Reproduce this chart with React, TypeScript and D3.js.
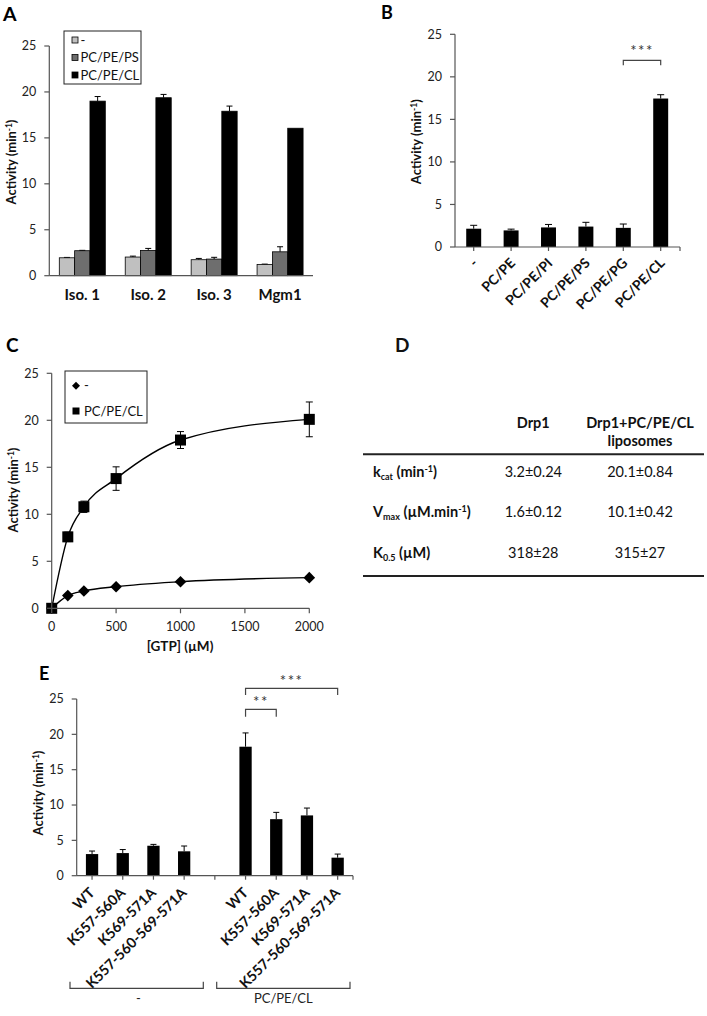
import React from "react";
import * as d3 from "d3";

const FONT = "Lato, 'Open Sans', sans-serif";
const AXIS = "#555";

// ---------- Panel A ----------
const groupsA = ["Iso. 1", "Iso. 2", "Iso. 3", "Mgm1"];
const seriesA = ["-", "PC/PE/PS", "PC/PE/CL"];
const colorsA = ["#c0c0c0", "#6e6e6e", "#000000"];
const valA_none = [1.95, 2.03, 1.74, 1.23];
const errA_none = [0.04, 0.1, 0.14, 0.03];
const valA_PS = [2.72, 2.75, 1.81, 2.6];
const errA_PS = [0.04, 0.22, 0.19, 0.55];
const valA_CL = [19.0, 19.37, 17.9, 16.05];
const errA_CL = [0.5, 0.36, 0.56, 0];
const ticksY = [0, 5, 10, 15, 20, 25];

// ---------- Panel B ----------
const catsB = ["-", "PC/PE", "PC/PE/PI", "PC/PE/PS", "PC/PE/PG", "PC/PE/CL"];
const valB = [2.15, 1.95, 2.3, 2.4, 2.25, 17.45];
const errB = [0.4, 0.15, 0.35, 0.5, 0.45, 0.45];

// ---------- Panel C ----------
const gtpC = [0, 125, 250, 500, 1000, 2000];
const actNoneC = [0, 1.35, 1.84, 2.3, 2.83, 3.26];
const actCLC = [0, 7.6, 10.8, 13.8, 17.9, 20.1];
const errCLC = [0, 0.5, 0.6, 1.25, 0.9, 1.85];
const ticksXC = [0, 500, 1000, 1500, 2000];

// ---------- Panel D ----------
const headersD = ["Drp1", "Drp1+PC/PE/CL", "liposomes"];
const colDrp1 = ["3.2±0.24", "1.6±0.12", "318±28"];
const colCL = ["20.1±0.84", "10.1±0.42", "315±27"];

// ---------- Panel E ----------
const catsE = ["WT", "K557-560A", "K569-571A", "K557-560-569-571A"];
const groupsE = ["-", "PC/PE/CL"];
const valE_none = [3.06, 3.2, 4.24, 3.45];
const errE_none = [0.43, 0.5, 0.19, 0.75];
const valE_CL = [18.25, 8.0, 8.53, 2.55];
const errE_CL = [1.95, 0.96, 1.04, 0.51];

function YAxis({ y, x, fs = 12.5 }: any) {
  return (
    <g>
      <line x1={x} x2={x} y1={y(0)} y2={y(25)} stroke={AXIS} strokeWidth={1.2} />
      {ticksY.map((t) => (
        <g key={t}>
          <line x1={x - 5} x2={x} y1={y(t)} y2={y(t)} stroke={AXIS} strokeWidth={1.2} />
          <text x={x - 13} y={y(t)} dy="0.35em" textAnchor="end" fontSize={fs} fill="#222">
            {t}
          </text>
        </g>
      ))}
    </g>
  );
}

function YTitle({ x, y }: any) {
  return (
    <text transform={`translate(${x},${y}) rotate(-90)`} textAnchor="middle" fontWeight="bold" fontSize={13} dy="0.35em" fill="#111">
      Activity (min<tspan dy={-4} fontSize={8.5}>-1</tspan>
      <tspan dy={4}>)</tspan>
    </text>
  );
}

function ErrBar({ cx, y1, y2, w = 6 }: any) {
  return (
    <g stroke="#000" strokeWidth={1}>
      <line x1={cx} x2={cx} y1={y1} y2={y2} />
      <line x1={cx - w / 2} x2={cx + w / 2} y1={y2} y2={y2} />
    </g>
  );
}

function PanelA() {
  const y = d3.scaleLinear().domain([0, 25]).range([275.7, 46]);
  const x = d3.scaleBand().domain(groupsA).range([49.3, 313]);
  const xi = d3.scaleBand().domain(seriesA).range([10, 56]);
  const vals = [valA_none, valA_PS, valA_CL];
  const errs = [errA_none, errA_PS, errA_CL];
  return (
    <g>
      <text x={3} y={21} fontSize={19.5} fontWeight="bold">A</text>
      {groupsA.map((g, gi) =>
        seriesA.map((s, si) => {
          const v = vals[si][gi];
          const e = errs[si][gi];
          const bx = (x(g) as number) + (xi(s) as number);
          const bw = xi.bandwidth();
          return (
            <g key={g + s}>
              {e > 0 && <ErrBar cx={bx + bw / 2} y1={y(v)} y2={y(v + e)} w={6} />}
              <rect x={bx} y={y(v)} width={bw} height={y(0) - y(v)} fill={colorsA[si]} stroke="#000" strokeWidth={0.8} />
            </g>
          );
        })
      )}
      <YAxis y={y} x={49.3} />
      <line x1={49.3} x2={313} y1={y(0)} y2={y(0)} stroke={AXIS} strokeWidth={1.2} />
      {groupsA.map((g) => (
        <text key={g} x={(x(g) as number) + x.bandwidth() / 2} y={300} textAnchor="middle" fontWeight="bold" fontSize={15} fill="#111">
          {g}
        </text>
      ))}
      <YTitle x={11} y={162} />
      <rect x={64} y={31} width={77} height={53} fill="#fff" stroke="#222" strokeWidth={1} />
      {seriesA.map((s, i) => (
        <g key={s}>
          <rect x={72} y={40 + i * 17.5 - 3} width={6} height={6} fill={colorsA[i]} stroke="#000" strokeWidth={0.8} />
          <text x={80.5} y={40 + i * 17.5} dy="0.35em" fontSize={13} fill="#111">{s}</text>
        </g>
      ))}
    </g>
  );
}

function PanelB() {
  const y = d3.scaleLinear().domain([0, 25]).range([247, 34.3]);
  const x = d3.scaleBand().domain(catsB).range([455, 679.4]).paddingInner(0.6).paddingOuter(0.3);
  const cx = (c: string) => (x(c) as number) + x.bandwidth() / 2;
  const b1 = cx("PC/PE/PG");
  const b2 = cx("PC/PE/CL");
  return (
    <g>
      <text x={381} y={19} fontSize={18} fontWeight="bold">B</text>
      {catsB.map((c, i) => (
        <g key={c}>
          <ErrBar cx={cx(c)} y1={y(valB[i])} y2={y(valB[i] + errB[i])} w={7} />
          <rect x={x(c)} y={y(valB[i])} width={x.bandwidth()} height={y(0) - y(valB[i])} fill="#000" />
          <line x1={cx(c)} x2={cx(c)} y1={y(0)} y2={y(0) + 4} stroke={AXIS} strokeWidth={1.2} />
          <text transform={`translate(${cx(c) + 5},${y(0) + 17}) rotate(-45)`} textAnchor="end" fontWeight="bold" fontSize={13.8} fill="#111">
            {c}
          </text>
        </g>
      ))}
      <YAxis y={y} x={455} />
      <line x1={455} x2={680} y1={y(0)} y2={y(0)} stroke={AXIS} strokeWidth={1.2} />
      <line x1={680} x2={680} y1={y(0)} y2={y(0) + 4} stroke={AXIS} strokeWidth={1.2} />
      <YTitle x={416.7} y={141.7} />
      <path d={`M${b1},65.3V60.3H${b2}V65.3`} fill="none" stroke="#444" strokeWidth={1.2} />
      <text x={(b1 + b2) / 2} y={56} textAnchor="middle" fontSize={15} letterSpacing={1.5} fill="#333">***</text>
    </g>
  );
}

function PanelC() {
  const y = d3.scaleLinear().domain([0, 25]).range([608.3, 373.3]);
  const x = d3.scaleLinear().domain([0, 2000]).range([51.7, 309.3]);
  const line = d3
    .line<number>()
    .x((_, i) => x(gtpC[i]))
    .y((d) => y(d))
    .curve(d3.curveMonotoneX);
  const diamond = (px: number, py: number, r: number) => `M${px},${py - r}L${px + r},${py}L${px},${py + r}L${px - r},${py}Z`;
  return (
    <g>
      <text x={6} y={352} fontSize={19} fontWeight="bold">C</text>
      <path d={line(actCLC) as string} fill="none" stroke="#000" strokeWidth={1.4} />
      <path d={line(actNoneC) as string} fill="none" stroke="#000" strokeWidth={1.4} />
      {gtpC.map((g, i) =>
        errCLC[i] > 0 ? (
          <g key={"e" + g} stroke="#000" strokeWidth={1}>
            <line x1={x(g)} x2={x(g)} y1={y(actCLC[i] - errCLC[i])} y2={y(actCLC[i] + errCLC[i])} />
            <line x1={x(g) - 3.5} x2={x(g) + 3.5} y1={y(actCLC[i] + errCLC[i])} y2={y(actCLC[i] + errCLC[i])} />
            <line x1={x(g) - 3.5} x2={x(g) + 3.5} y1={y(actCLC[i] - errCLC[i])} y2={y(actCLC[i] - errCLC[i])} />
          </g>
        ) : null
      )}
      {gtpC.map((g, i) => (
        <rect key={"s" + g} x={x(g) - 5.5} y={y(actCLC[i]) - 5.5} width={11} height={11} fill="#000" />
      ))}
      {gtpC.map((g, i) => (
        <path key={"d" + g} d={diamond(x(g), y(actNoneC[i]), 5.8)} fill="#000" />
      ))}
      <YAxis y={y} x={51.7} />
      <line x1={51.7} x2={309.3} y1={y(0)} y2={y(0)} stroke={AXIS} strokeWidth={1.2} />
      {ticksXC.map((t) => (
        <g key={t}>
          <line x1={x(t)} x2={x(t)} y1={y(0)} y2={y(0) + 5} stroke={AXIS} strokeWidth={1.2} />
          <text x={x(t)} y={631} textAnchor="middle" fontSize={12.5} fill="#222">{t}</text>
        </g>
      ))}
      <text x={180} y={651} textAnchor="middle" fontWeight="bold" fontSize={13.5} fill="#111">[GTP] (µM)</text>
      <YTitle x={13} y={490} />
      <rect x={65} y={371} width={82} height={52} fill="#fff" stroke="#222" strokeWidth={1} />
      <path d={diamond(76, 385.7, 4)} fill="#000" />
      <text x={84} y={385.7} dy="0.35em" fontSize={13} fill="#111">-</text>
      <rect x={72.5} y={407.5} width={7} height={7} fill="#000" />
      <text x={84} y={411} dy="0.35em" fontSize={13} fill="#111">PC/PE/CL</text>
    </g>
  );
}

function PanelD() {
  const rowY = [472.3, 512.3, 552.7];
  const c1 = 533.3;
  const c2 = 640;
  const fs = 14.5;
  const sub = 9;
  return (
    <g fill="#111">
      <text x={395} y={352} fontSize={19} fontWeight="bold">D</text>
      <text x={c1} y={423.3} dy="0.35em" textAnchor="middle" fontWeight="bold" fontSize={fs}>{headersD[0]}</text>
      <text x={c2} y={423.3} dy="0.35em" textAnchor="middle" fontWeight="bold" fontSize={fs}>{headersD[1]}</text>
      <text x={c2} y={441} dy="0.35em" textAnchor="middle" fontWeight="bold" fontSize={fs}>{headersD[2]}</text>
      <line x1={363} x2={704} y1={454.3} y2={454.3} stroke="#222" strokeWidth={2} />
      <line x1={363} x2={704} y1={576} y2={576} stroke="#222" strokeWidth={2} />
      <text x={373} y={rowY[0]} dy="0.35em" fontWeight="bold" fontSize={fs}>
        k<tspan fontSize={sub} dy={3}>cat</tspan>
        <tspan dy={-3}> (min</tspan>
        <tspan fontSize={sub} dy={-5}>-1</tspan>
        <tspan dy={5}>)</tspan>
      </text>
      <text x={373} y={rowY[1]} dy="0.35em" fontWeight="bold" fontSize={fs}>
        V<tspan fontSize={sub} dy={3}>max</tspan>
        <tspan dy={-3}> (µM.min</tspan>
        <tspan fontSize={sub} dy={-5}>-1</tspan>
        <tspan dy={5}>)</tspan>
      </text>
      <text x={373} y={rowY[2]} dy="0.35em" fontWeight="bold" fontSize={fs}>
        K<tspan fontSize={sub} dy={3}>0.5</tspan>
        <tspan dy={-3}> (µM)</tspan>
      </text>
      {rowY.map((ry, i) => (
        <g key={i}>
          <text x={c1} y={ry} dy="0.35em" textAnchor="middle" fontSize={fs}>{colDrp1[i]}</text>
          <text x={c2} y={ry} dy="0.35em" textAnchor="middle" fontSize={fs}>{colCL[i]}</text>
        </g>
      ))}
    </g>
  );
}

function PanelE() {
  const y = d3.scaleLinear().domain([0, 25]).range([875.7, 699]);
  const keys = [...catsE.map((c) => "-|" + c), "gap", ...catsE.map((c) => "CL|" + c)];
  const x = d3.scaleBand().domain(keys).range([76.7, 353]).paddingInner(0.6).paddingOuter(0.3);
  const cx = (k: string) => (x(k) as number) + x.bandwidth() / 2;
  const bars = [
    ...catsE.map((c, i) => ({ k: "-|" + c, c, v: valE_none[i], e: errE_none[i] })),
    ...catsE.map((c, i) => ({ k: "CL|" + c, c, v: valE_CL[i], e: errE_CL[i] })),
  ];
  const wt = cx("CL|WT");
  const k1 = cx("CL|K557-560A");
  const k3 = cx("CL|K557-560-569-571A");
  return (
    <g>
      <text x={39} y={680} fontSize={18} fontWeight="bold">E</text>
      {bars.map((b) => (
        <g key={b.k}>
          <ErrBar cx={cx(b.k)} y1={y(b.v)} y2={y(b.v + b.e)} w={6} />
          <rect x={x(b.k)} y={y(b.v)} width={x.bandwidth()} height={y(0) - y(b.v)} fill="#000" />
          <text transform={`translate(${cx(b.k) + 3.5},${y(0) + 18}) rotate(-45)`} textAnchor="end" fontWeight="bold" fontSize={14.3} fill="#111">
            {b.c}
          </text>
        </g>
      ))}
      {keys.map((k) => (
        <line key={"t" + k} x1={cx(k)} x2={cx(k)} y1={y(0)} y2={y(0) + 4} stroke={AXIS} strokeWidth={1.2} />
      ))}
      <line x1={353} x2={353} y1={y(0)} y2={y(0) + 4} stroke={AXIS} strokeWidth={1.2} />
      <YAxis y={y} x={76.7} />
      <line x1={76.7} x2={353} y1={y(0)} y2={y(0)} stroke={AXIS} strokeWidth={1.2} />
      <YTitle x={38.3} y={793} />
      <path d={`M${wt},716.7V709.3H${k1}V716.7`} fill="none" stroke="#444" strokeWidth={1.2} />
      <text x={(wt + k1) / 2} y={707} textAnchor="middle" fontSize={15} letterSpacing={1.5} fill="#333">**</text>
      <path d={`M${wt},695V688.3H${k3}V695`} fill="none" stroke="#444" strokeWidth={1.2} />
      <text x={(wt + k3) / 2} y={686} textAnchor="middle" fontSize={15} letterSpacing={1.5} fill="#333">***</text>
      <path d="M70,981.7V988.3H203.3V981.7" fill="none" stroke="#444" strokeWidth={1.2} />
      <path d="M216.7,981.7V988.3H350V981.7" fill="none" stroke="#444" strokeWidth={1.2} />
      <text x={138.3} y={1003} textAnchor="middle" fontSize={13} fill="#222">{groupsE[0]}</text>
      <text x={283.3} y={1003} textAnchor="middle" fontSize={13} fill="#222">{groupsE[1]}</text>
    </g>
  );
}

export default function App() {
  return (
    <svg
      width={707}
      height={1016}
      viewBox="0 0 707 1016"
      style={{ position: "absolute", left: 0, top: 0, background: "#fff" }}
      fontFamily={FONT}
    >
      <rect width={707} height={1016} fill="#fff" />
      <PanelA />
      <PanelB />
      <PanelC />
      <PanelD />
      <PanelE />
    </svg>
  );
}
